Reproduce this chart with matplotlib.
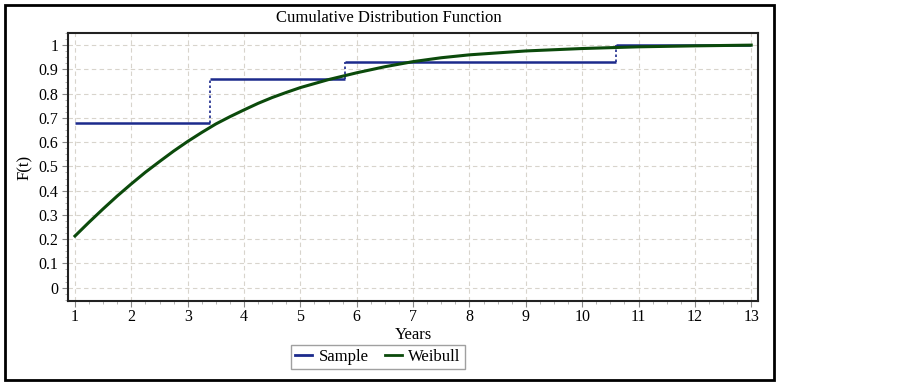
import matplotlib
matplotlib.use("Agg")
import matplotlib.pyplot as plt
from matplotlib.patches import Rectangle
from matplotlib.ticker import MultipleLocator
from matplotlib.lines import Line2D

plt.rcParams['font.family'] = ['Liberation Serif', 'DejaVu Serif']

# Data
sample_x = [1, 3.4, 5.8, 10.6, 13]
sample_y = [0.68, 0.86, 0.93, 1.0, 1.0]
weibull_x = [1, 1.25, 1.5, 1.75, 2, 2.25, 2.5, 2.75, 3, 3.25, 3.5, 3.75, 4, 4.25, 4.5, 4.75, 5,
             5.5, 6, 6.5, 7, 7.5, 8, 9, 10, 11, 12, 13]
weibull_y = [0.213, 0.27, 0.325, 0.378, 0.428, 0.476, 0.52, 0.563, 0.603, 0.64, 0.675, 0.705, 0.733,
             0.76, 0.784, 0.805, 0.825, 0.858, 0.886, 0.911, 0.932, 0.948, 0.96, 0.976, 0.986, 0.993, 0.997, 1.0]
x_ticks = list(range(1, 14))
y_ticks = [0, 0.1, 0.2, 0.3, 0.4, 0.5, 0.6, 0.7, 0.8, 0.9, 1]
y_tick_labels = ['0', '0.1', '0.2', '0.3', '0.4', '0.5', '0.6', '0.7', '0.8', '0.9', '1']

W, H = 903, 384
fig = plt.figure(figsize=(W / 100, H / 100), dpi=100)
ax = fig.add_axes([68 / W, 1 - 301 / H, (758 - 68) / W, (301 - 33) / H])

sample_col = '#1c2a8c'
weib_col = '#0b4a0b'

# sample step: horizontal segments and dotted verticals
for i in range(len(sample_x) - 1):
    ax.plot([sample_x[i], sample_x[i + 1]], [sample_y[i], sample_y[i]], color=sample_col, lw=1.8,
            solid_capstyle='butt', zorder=3)
    if i + 1 < len(sample_x) - 1:
        ax.plot([sample_x[i + 1], sample_x[i + 1]], [sample_y[i], sample_y[i + 1]], color=sample_col,
                lw=1.2, ls=(0, (1.5, 1.5)), zorder=3)

ax.plot(weibull_x, weibull_y, color=weib_col, lw=2.2, zorder=4)

ax.set_xlim(0.876, 13.12)
ax.set_ylim(-0.055, 1.05)
ax.set_xticks(x_ticks)
ax.set_yticks(y_ticks)
ax.set_yticklabels(y_tick_labels)
ax.xaxis.set_minor_locator(MultipleLocator(0.25))
ax.yaxis.set_minor_locator(MultipleLocator(0.025))
ax.tick_params(which='major', direction='out', length=4, width=0.8, color='#888888', labelsize=11.5, pad=2)
ax.tick_params(which='minor', direction='out', length=2, width=0.6, color='#aaaaaa')
ax.tick_params(axis='y', pad=3)
ax.grid(True, which='major', ls=(0, (4, 3)), color='#d8d4cc', lw=0.8)
ax.set_axisbelow(True)
for s in ax.spines.values():
    s.set_linewidth(1.5)
    s.set_color('#222222')

ax.set_xlabel('Years', fontsize=12, labelpad=1)
ax.set_ylabel('F(t)', fontsize=12, labelpad=4)

fig.text(389 / W, 1 - 18 / H, 'Cumulative Distribution Function', ha='center', va='center', fontsize=12)

handles = [Line2D([], [], color=sample_col, lw=2), Line2D([], [], color=weib_col, lw=2)]
leg = fig.legend(handles, ['Sample', 'Weibull'], loc='center', bbox_to_anchor=(378 / W, 1 - 357 / H),
                 ncol=2, fontsize=12, frameon=True, fancybox=False, handlelength=1.0, handletextpad=0.4,
                 columnspacing=1.0, borderpad=0.25, edgecolor='#888888')
leg.get_frame().set_linewidth(1.0)

fig.add_artist(Rectangle((5 / W, 1 - 380 / H), (774 - 5) / W, (380 - 5) / H, transform=fig.transFigure,
                         fill=False, edgecolor='black', lw=2))

fig.savefig('out.png', dpi=100)
